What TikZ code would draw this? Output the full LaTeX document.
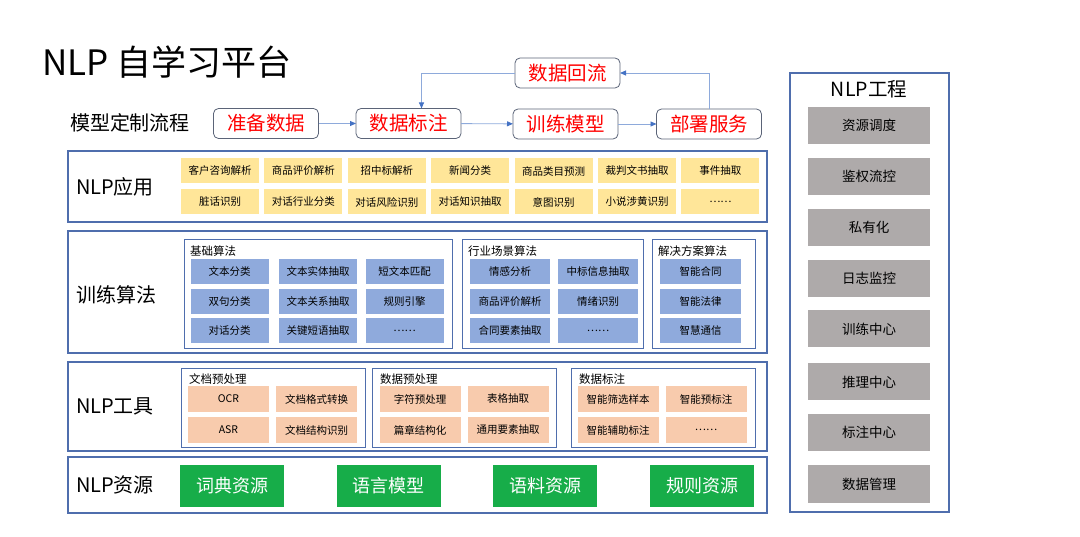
\documentclass[tikz,border=0pt]{standalone}
\usepackage{fontspec}
\setmainfont{Noto Sans CJK SC}
\usetikzlibrary{arrows.meta}

\definecolor{panelline}{HTML}{4F6EAD}
\definecolor{flowline}{HTML}{8EAADB}
\definecolor{arrowblue}{HTML}{4472C4}
\definecolor{flowedge}{HTML}{5B6478}
\definecolor{appfill}{HTML}{FFE699}
\definecolor{algfill}{HTML}{8FAADC}
\definecolor{toolfill}{HTML}{F8CBAD}
\definecolor{resfill}{HTML}{17AD49}
\definecolor{engfill}{HTML}{AEAAAA}

\newcommand{\fs}[1]{\fontsize{#1}{#1}\selectfont}

\begin{document}
\begin{tikzpicture}[x=1pt, y=-1pt,
  every node/.style={inner sep=0pt, outer sep=0pt},
  panel/.style={draw=panelline, line width=1.2pt, fill=white},
  subbox/.style={draw=panelline, line width=0.9pt, fill=white},
  flowbox/.style={draw=flowedge, line width=0.8pt, rounded corners=5pt, fill=white,
    minimum width=105, minimum height=30, font=\fs{19.5}\color{red}},
  flowarrow/.style={draw=flowline, line width=0.9pt,
    -{Triangle[length=6pt, width=5pt, color=arrowblue]}},
  cell/.style={minimum height=25, font=\fs{10.5}},
  appcell/.style={cell, fill=appfill, minimum width=78},
  algcell/.style={cell, fill=algfill, minimum width=78},
  toolcell/.style={cell, fill=toolfill, minimum width=81, minimum height=26},
  rescell/.style={fill=resfill, minimum width=104, minimum height=42, text=white, font=\fs{18}},
  engcell/.style={fill=engfill, minimum width=122, minimum height=37, font=\fs{13.5}},
  rowlabel/.style={anchor=west, font=\fs{20}},
  subtitle/.style={anchor=west, font=\fs{11.5}}]
  \useasboundingbox (0,0) rectangle (1080,537);

  % title
  \node[anchor=west, font=\fs{35}] (title) at (42,62) {NLP 自学习平台};

  % model customisation flow
  \node[anchor=west, font=\fs{20}] (flowlabel) at (70,123) {模型定制流程};
  \node[flowbox] (prep)   at (266,123.5) {准备数据};
  \node[flowbox] (label)  at (408.5,123.5) {数据标注};
  \node[flowbox] (train)  at (565.5,124) {训练模型};
  \node[flowbox] (deploy) at (709,124) {部署服务};
  \node[flowbox] (back)   at (567.5,73) {数据回流};
  \draw[flowarrow] (prep) -- (label);
  \draw[flowarrow] (label) -- (train);
  \draw[flowarrow] (train) -- (deploy);
  \draw[flowarrow] (deploy.north) |- (back.east);
  \draw[flowarrow] (back.west) -| ([xshift=13pt]label.north);

  % NLP applications
  \draw[panel] (68,151) rectangle (767,222);
  \node[rowlabel] (applabel) at (76,187) {NLP应用};
  \foreach \txt [count=\i from 0] in {客户咨询解析,商品评价解析,招中标解析,新闻分类,商品类目预测,裁判文书抽取,事件抽取}
    \node[appcell] (appa\i) at (220+83.4*\i,171) {\txt};
  \foreach \txt [count=\i from 0] in {脏话识别,对话行业分类,对话风险识别,对话知识抽取,意图识别,小说涉黄识别,……}
    \node[appcell] (appb\i) at (220+83.4*\i,202) {\txt};

  % training algorithms
  \draw[panel] (68,231) rectangle (767,353);
  \node[rowlabel] (alglabel) at (76,295) {训练算法};
  \draw[subbox] (184,239) rectangle (452,348);
  \node[subtitle] (basetitle) at (190,251) {基础算法};
  \foreach \a/\b/\c [count=\r from 0] in {文本分类/文本实体抽取/短文本匹配, 双句分类/文本关系抽取/规则引擎, 对话分类/关键短语抽取/……}{
    \node[algcell] (basea\r) at (229.5,271.5+29.7*\r) {\a};
    \node[algcell] (baseb\r) at (318,271.5+29.7*\r) {\b};
    \node[algcell] (basec\r) at (404.5,271.5+29.7*\r) {\c};
  }
  \draw[subbox] (462,239) rectangle (643,348);
  \node[subtitle] (indtitle) at (468,251) {行业场景算法};
  \foreach \a/\b [count=\r from 0] in {情感分析/中标信息抽取, 商品评价解析/情绪识别, 合同要素抽取/……}{
    \node[algcell, minimum width=80] (inda\r) at (510,271.5+29.7*\r) {\a};
    \node[algcell, minimum width=80] (indb\r) at (598,271.5+29.7*\r) {\b};
  }
  \draw[subbox] (652,239) rectangle (755,348);
  \node[subtitle] (soltitle) at (658,251) {解决方案算法};
  \foreach \a [count=\r from 0] in {智能合同,智能法律,智慧通信}
    \node[algcell, minimum width=81] (sol\r) at (700.5,271.5+29.7*\r) {\a};

  % NLP tools
  \draw[panel] (68,362) rectangle (767,451);
  \node[rowlabel] (toollabel) at (76,406) {NLP工具};
  \draw[subbox] (181,368) rectangle (365,447);
  \node[subtitle] (doctitle) at (189,379) {文档预处理};
  \draw[subbox] (372,368) rectangle (556,447);
  \node[subtitle] (datatitle) at (380,379) {数据预处理};
  \draw[subbox] (571,368) rectangle (755,447);
  \node[subtitle] (marktitle) at (579,379) {数据标注};
  \foreach \x/\a/\b/\c/\d [count=\k] in {228.5/OCR/文档格式转换/ASR/文档结构识别,
      420/字符预处理/表格抽取/篇章结构化/通用要素抽取,
      618/智能筛选样本/智能预标注/智能辅助标注/……}{
    \node[toolcell] (tool\k a) at (\x,399) {\a};
    \node[toolcell] (tool\k b) at (\x+88,399) {\b};
    \node[toolcell] (tool\k c) at (\x,430) {\c};
    \node[toolcell] (tool\k d) at (\x+88,430) {\d};
  }

  % NLP resources
  \draw[panel] (68,457) rectangle (767,513);
  \node[rowlabel] (reslabel) at (76,485) {NLP资源};
  \foreach \txt [count=\i from 0] in {词典资源,语言模型,语料资源,规则资源}
    \node[rescell] (res\i) at (232+156.7*\i,486) {\txt};

  % NLP engineering
  \draw[panel] (790,73) rectangle (949,512);
  \node[font=\fs{19.5}] (engtitle) at (869,89) {NLP工程};
  \foreach \txt/\y [count=\i] in {资源调度/125.5,鉴权流控/176.5,私有化/227.5,日志监控/278.5,
      训练中心/329,推理中心/382,标注中心/432.5,数据管理/484}
    \node[engcell] (eng\i) at (869,\y) {\txt};
\end{tikzpicture}
\end{document}
